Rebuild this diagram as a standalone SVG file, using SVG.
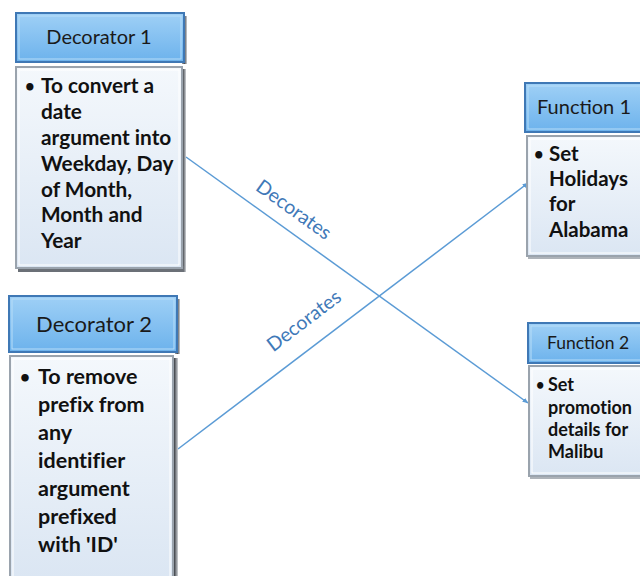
<svg xmlns="http://www.w3.org/2000/svg" width="640" height="576" viewBox="0 0 640 576">
<defs>
<linearGradient id="hg" x1="0" y1="0" x2="0" y2="1">
<stop offset="0" stop-color="#9fd0f6"/>
<stop offset="1" stop-color="#6cb2ec"/>
</linearGradient>
<linearGradient id="bg" x1="0" y1="0" x2="0" y2="1">
<stop offset="0" stop-color="#f4f8fc"/>
<stop offset="1" stop-color="#dbe6f3"/>
</linearGradient>
<linearGradient id="sh" x1="0" y1="0" x2="1" y2="0">
<stop offset="0" stop-color="#9a9fa6"/>
<stop offset="0.5" stop-color="#4b4f55"/>
<stop offset="1" stop-color="#cfd2d6"/>
</linearGradient>
<marker id="arr" viewBox="0 0 10 10" refX="9" refY="5" markerWidth="6" markerHeight="6" orient="auto" markerUnits="userSpaceOnUse">
<path d="M0,1 L10,5 L0,9 z" fill="#5b9bd5"/>
</marker>
</defs>
<style>
.hd{fill:url(#hg);stroke:#3f78b5;stroke-width:2}
.hdi{fill:none;stroke:#b8ddf8;stroke-width:1}
.bd{fill:url(#bg);stroke:#9aa3ad;stroke-width:2}
.bdi{fill:none;stroke:#ffffff;stroke-width:1}
.shd{fill:url(#sh)}
.ht{font-family:Lato,"Liberation Sans",sans-serif;fill:#1a1a1a;text-anchor:middle}
.bt{font-family:Lato,"Liberation Sans",sans-serif;font-weight:bold;fill:#111;font-variant-ligatures:none}
.bu{font-size:0.8em}
.cn{fill:none;stroke:#5b9bd5;stroke-width:1.5}
.lb{font-family:Lato,"Liberation Sans",sans-serif;fill:#3f79b8;font-size:19.5px;text-anchor:middle}
</style>
<rect width="640" height="576" fill="#ffffff"/>

<g id="connectors">
<line class="cn" x1="186" y1="157" x2="528" y2="403" marker-end="url(#arr)"/>
<line class="cn" x1="178" y1="449" x2="528" y2="183" marker-end="url(#arr)"/>
<text class="lb" transform="translate(290,215) rotate(35.7)">Decorates</text>
<text class="lb" transform="translate(308,326) rotate(-37.2)">Decorates</text>
</g>

<g id="decorator1">
<rect class="shd" x="182" y="16" width="5" height="48"/>
<rect class="hd" x="16" y="13" width="168" height="49"/>
<rect class="hdi" x="19" y="16" width="162" height="43"/>
<text class="ht" x="99" y="44" font-size="20">Decorator 1</text>
<rect class="shd" x="180" y="69" width="6" height="203"/>
<rect x="18" y="266" width="166" height="6" fill="#6b7077"/>
<rect class="bd" x="16" y="67" width="166" height="201"/>
<rect class="bdi" x="19" y="70" width="160" height="195"/>
<text class="bt" font-size="20.8">
<tspan class="bu" x="25" y="92">•</tspan>
<tspan x="41" y="93">To convert a</tspan>
<tspan x="41" y="119">date</tspan>
<tspan x="41" y="145">argument into</tspan>
<tspan x="41" y="171">Weekday, Day</tspan>
<tspan x="41" y="197">of Month,</tspan>
<tspan x="41" y="222">Month and</tspan>
<tspan x="41" y="248">Year</tspan>
</text>
</g>

<g id="decorator2">
<rect class="shd" x="175" y="299" width="5" height="55"/>
<rect class="hd" x="9" y="296" width="168" height="56"/>
<rect class="hdi" x="12" y="299" width="162" height="50"/>
<text class="ht" x="94" y="332" font-size="22">Decorator 2</text>
<rect class="shd" x="171" y="358" width="7" height="218"/>
<rect class="bd" x="10" y="356" width="163" height="222"/>
<rect class="bdi" x="13" y="359" width="157" height="220"/>
<text class="bt" font-size="21.5">
<tspan class="bu" x="20" y="383">•</tspan>
<tspan x="38" y="384">To remove</tspan>
<tspan x="38" y="412">prefix from</tspan>
<tspan x="38" y="440">any</tspan>
<tspan x="38" y="468">identifier</tspan>
<tspan x="38" y="496">argument</tspan>
<tspan x="38" y="524">prefixed</tspan>
<tspan x="38" y="552">with 'ID'</tspan>
</text>
</g>

<g id="function1">
<rect class="hd" x="525" y="83" width="120" height="49"/>
<rect class="hdi" x="528" y="86" width="120" height="43"/>
<text class="ht" x="584" y="114" font-size="20">Function 1</text>
<rect x="528" y="254" width="112" height="5" fill="#aeb3b9"/>
<rect class="bd" x="527" y="136" width="120" height="120"/>
<rect class="bdi" x="530" y="139" width="120" height="114"/>
<text class="bt" font-size="20.5">
<tspan class="bu" x="534" y="160">•</tspan>
<tspan x="549" y="161">Set</tspan>
<tspan x="549" y="186">Holidays</tspan>
<tspan x="549" y="211">for</tspan>
<tspan x="549" y="237">Alabama</tspan>
</text>
</g>

<g id="function2">
<rect class="hd" x="528" y="323" width="120" height="40"/>
<rect class="hdi" x="531" y="326" width="120" height="34"/>
<text class="ht" x="588" y="349" font-size="17.5">Function 2</text>
<rect x="530" y="474" width="110" height="5" fill="#aeb3b9"/>
<rect class="bd" x="529" y="366" width="120" height="110"/>
<rect class="bdi" x="532" y="369" width="120" height="104"/>
<text class="bt" font-size="18">
<tspan class="bu" x="536" y="390">•</tspan>
<tspan x="548" y="391">Set</tspan>
<tspan x="548" y="414">promotion</tspan>
<tspan x="548" y="436">details for</tspan>
<tspan x="548" y="458">Malibu</tspan>
</text>
</g>
</svg>
